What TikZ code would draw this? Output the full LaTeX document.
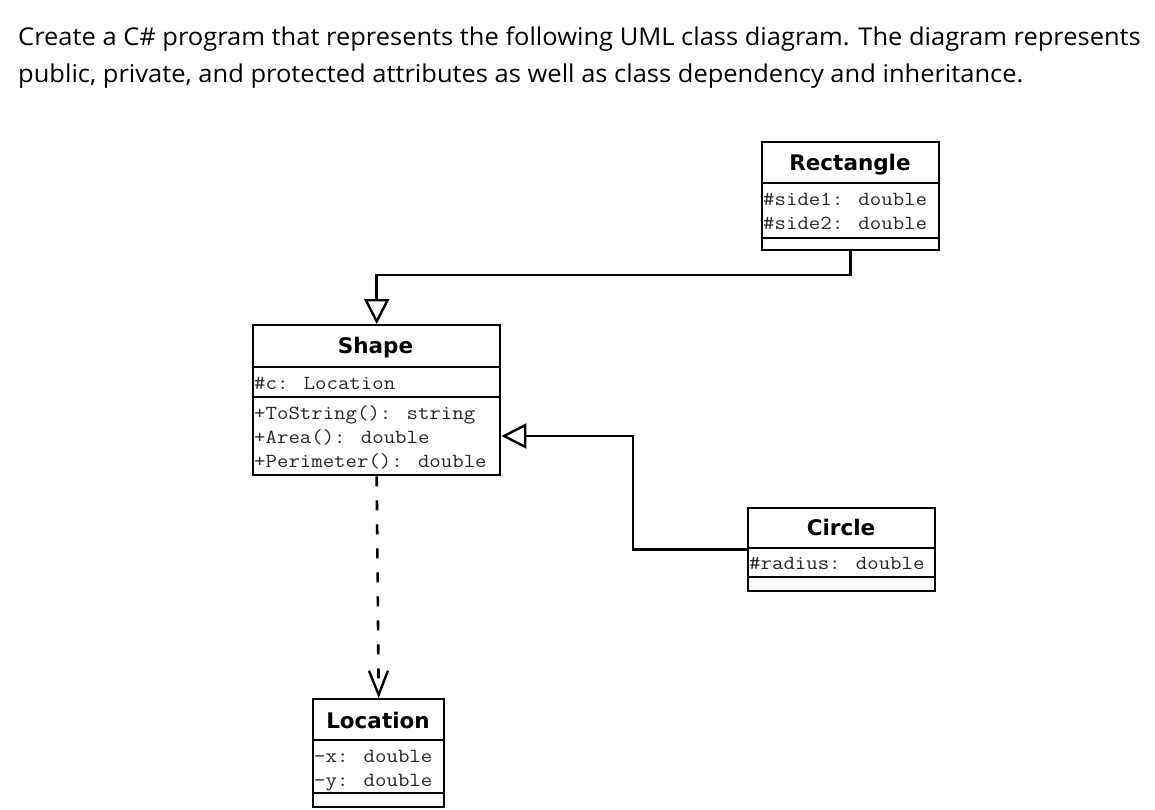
\documentclass[tikz,border=0pt]{standalone}
\usepackage{fontspec}
\setmainfont{Open Sans}
\newfontfamily\headfont[FakeStretch=1.04]{Open Sans}
\newfontfamily\umltitle{DejaVu Sans}
\newcommand{\umltext}[1]{\scalebox{1.11}[1]{\ttfamily\fontsize{20}{22}\selectfont #1}}
\usetikzlibrary{arrows.meta}
\begin{document}
\begin{tikzpicture}[x=1pt,y=-1pt,
  box/.style={draw, line width=2.4pt, rectangle, inner sep=0pt, anchor=north west},
  sep/.style={line width=1.8pt},
  ttl/.style={font=\umltitle\bfseries\fontsize{21.5}{24}\selectfont, inner sep=0pt, anchor=base},
  mem/.style={inner sep=0pt, anchor=base west, text=black!85},
  inherit/.style={line width=2.6pt, -{Triangle[open, length=25pt, width=25pt, line width=2.4pt]}},
  depend/.style={line width=2.6pt, dash pattern=on 10pt off 14pt, -{Straight Barb[length=24pt, width=19pt, line width=2.4pt]}},
  head/.style={font=\headfont\fontsize{24.5}{28}\selectfont, inner sep=0pt, anchor=base west}
]
\useasboundingbox (0,0) rectangle (1155,809);
\fill[white] (0,0) rectangle (1155,809);

\node[head] (h1) at (18,45) {Create a C\# program that represents the following UML class diagram. The diagram represents};
\node[head] (h2) at (18,82) {public, private, and protected attributes as well as class dependency and inheritance.};

% Rectangle
\node[box, minimum width=177pt, minimum height=108pt] (rect) at (761,141) {};
\draw[sep] (761,183) -- (938,183);
\draw[sep] (761,238) -- (938,238);
\node[ttl] (rectT) at (850,170) {Rectangle};
\node[mem] (rectA1) at (763,205) {\umltext{\#side1: double}};
\node[mem] (rectA2) at (763,229) {\umltext{\#side2: double}};

% Shape
\node[box, minimum width=247pt, minimum height=150pt] (shape) at (252,324) {};
\draw[sep] (252,367) -- (499,367);
\draw[sep] (252,397) -- (499,397);
\node[ttl] (shapeT) at (375.5,353) {Shape};
\node[mem] (shapeA1) at (254,389) {\umltext{\#c: Location}};
\node[mem] (shapeM1) at (254,419) {\umltext{+ToString(): string}};
\node[mem] (shapeM2) at (254,443) {\umltext{+Area(): double}};
\node[mem] (shapeM3) at (254,467) {\umltext{+Perimeter(): double}};

% Circle
\node[box, minimum width=187pt, minimum height=83pt] (circle) at (747,507) {};
\draw[sep] (747,548) -- (934,548);
\draw[sep] (747,577) -- (934,577);
\node[ttl] (circleT) at (841,535) {Circle};
\node[mem] (circleA1) at (749,569) {\umltext{\#radius: double}};

% Location
\node[box, minimum width=131pt, minimum height=108pt] (loc) at (312,698) {};
\draw[sep] (312,740) -- (443,740);
\draw[sep] (312,793) -- (443,793);
\node[ttl] (locT) at (378,728) {Location};
\node[mem] (locA1) at (314,762) {\umltext{-x: double}};
\node[mem] (locA2) at (314,786) {\umltext{-y: double}};

% connectors
\coordinate (bendR) at (0,275);
\coordinate (bendC) at (633,0);
\coordinate (inC) at (0,436);
\draw[inherit] (rect.south) |- (bendR -| shape.north) -- (shape.north);
\draw[inherit] (circle.west) -| (bendC |- inC) -- (shape.east |- inC);
\draw[depend] (shape.south) -- (loc.north);
\end{tikzpicture}
\end{document}
